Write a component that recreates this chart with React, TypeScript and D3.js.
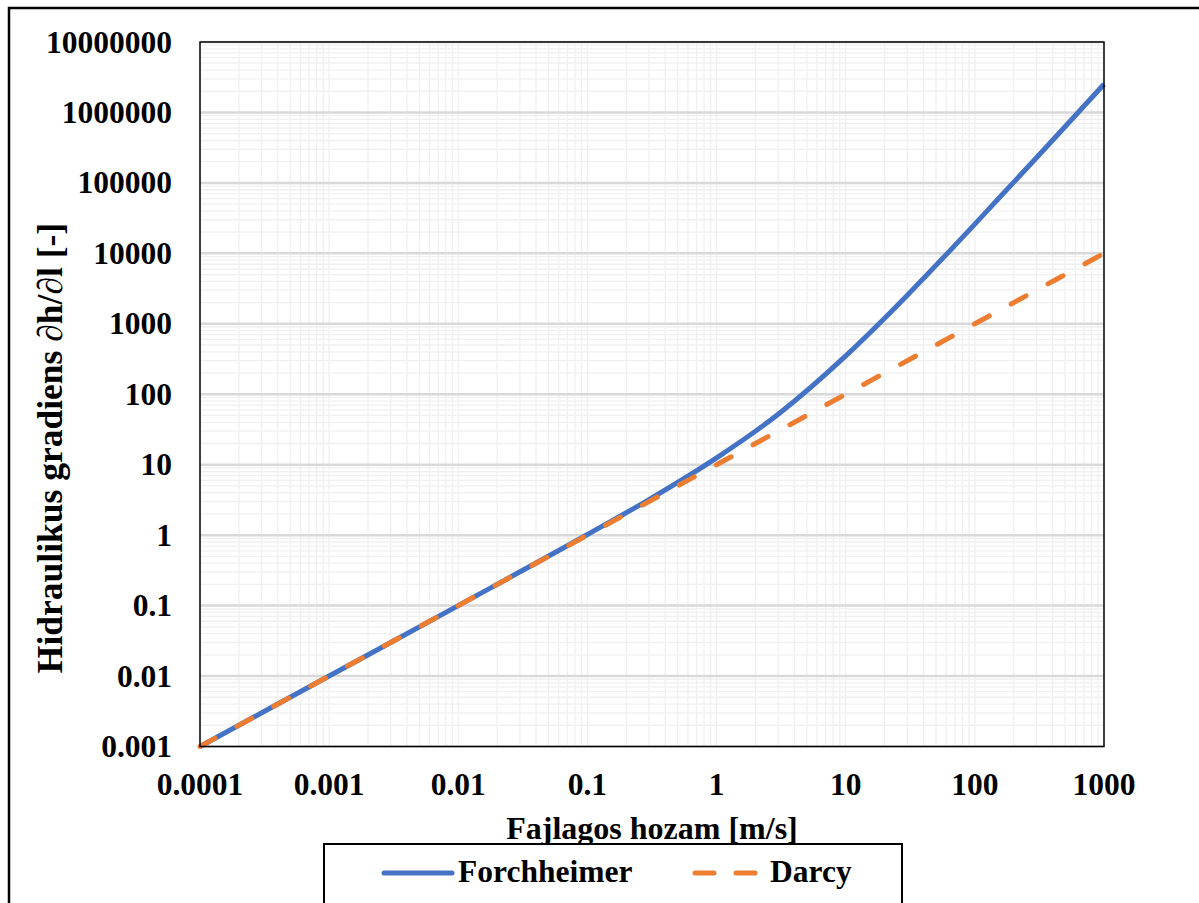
import React from "react";
import * as d3 from "d3";

const xTicks = [0.0001, 0.001, 0.01, 0.1, 1, 10, 100, 1000];
const xTickLabels = ["0.0001", "0.001", "0.01", "0.1", "1", "10", "100", "1000"];
const yTicks = [0.001, 0.01, 0.1, 1, 10, 100, 1000, 10000, 100000, 1000000, 10000000];
const yTickLabels = ["0.001", "0.01", "0.1", "1", "10", "100", "1000", "10000", "100000", "1000000", "10000000"];

const forchV = [0.0001, 0.001, 0.01, 0.1, 0.3, 1, 3, 10, 20, 30, 60, 100, 150, 300, 600, 1000];
const forchI = [0.001, 0.01, 0.1, 1.02, 3.2, 12.5, 52, 350, 1200, 2550, 9600, 26000, 58000, 228000, 906000, 2510000];

const darcyV = [0.0001, 0.001, 0.01, 0.1, 1, 10, 100, 1000];
const darcyI = [0.001, 0.01, 0.1, 1, 10, 100, 1000, 10000];

const seriesNames = ["Forchheimer", "Darcy"];
const colors = ["#4472C4", "#ED7D31"];

const L = 200, R = 1104, T = 42, B = 746.5;
const FONT = "'Liberation Serif', 'Times New Roman', serif";

export default function App() {
  const x = d3.scaleLog().domain([0.0001, 1000]).range([L, R]);
  const y = d3.scaleLog().domain([0.001, 10000000]).range([B, T]);

  const minorX: number[] = [];
  xTicks.slice(0, -1).forEach((d) => {
    for (let k = 2; k <= 9; k++) minorX.push(d * k);
  });
  const minorY: number[] = [];
  yTicks.slice(0, -1).forEach((d) => {
    for (let k = 2; k <= 9; k++) minorY.push(d * k);
  });

  const line = d3
    .line<[number, number]>()
    .x((d) => x(d[0]))
    .y((d) => y(d[1]))
    .curve(d3.curveMonotoneX);

  const forchPath = line(forchV.map((v, i) => [v, forchI[i]]) as [number, number][]) || "";
  const darcyPath = line(darcyV.map((v, i) => [v, darcyI[i]]) as [number, number][]) || "";

  return (
    <svg
      width={1199}
      height={903}
      style={{ position: "absolute", left: 0, top: 0, background: "#fff" }}
    >
      <rect x={0} y={0} width={1199} height={903} fill="#fff" />
      <rect x={9} y={8} width={1300} height={1000} fill="none" stroke="#000" strokeWidth={2.5} />

      {/* minor grid */}
      {minorX.map((d, i) => (
        <line key={"mx" + i} x1={x(d)} x2={x(d)} y1={T} y2={B} stroke="#f0f0f0" strokeWidth={1.3} />
      ))}
      {xTicks.map((d, i) => (
        <line key={"Mx" + i} x1={x(d)} x2={x(d)} y1={T} y2={B} stroke="#f0f0f0" strokeWidth={1.3} />
      ))}
      {minorY.map((d, i) => (
        <line key={"my" + i} x1={L} x2={R} y1={y(d)} y2={y(d)} stroke="#f0f0f0" strokeWidth={1.3} />
      ))}
      {yTicks.map((d, i) => (
        <line key={"My" + i} x1={L} x2={R} y1={y(d)} y2={y(d)} stroke="#d9d9d9" strokeWidth={2.5} />
      ))}

      {/* series */}
      <path d={forchPath} fill="none" stroke={colors[0]} strokeWidth={5} />
      <path
        d={darcyPath}
        fill="none"
        stroke={colors[1]}
        strokeWidth={5}
        strokeDasharray="17 25"
        strokeLinecap="round"
      />

      {/* plot border */}
      <rect x={L} y={T} width={R - L} height={B - T} fill="none" stroke="#000" strokeWidth={1.5} />

      {/* tick labels */}
      {yTicks.map((d, i) => (
        <text
          key={"yl" + i}
          x={172}
          y={y(d) + 10.5}
          textAnchor="end"
          fontFamily={FONT}
          fontWeight="bold"
          fontSize={31.5}
        >
          {yTickLabels[i]}
        </text>
      ))}
      {xTicks.map((d, i) => (
        <text
          key={"xl" + i}
          x={x(d)}
          y={795}
          textAnchor="middle"
          fontFamily={FONT}
          fontWeight="bold"
          fontSize={31.5}
        >
          {xTickLabels[i]}
        </text>
      ))}

      {/* axis titles */}
      <text x={(L + R) / 2} y={839} textAnchor="middle" fontFamily={FONT} fontWeight="bold" fontSize={32}>
        Fajlagos hozam [m/s]
      </text>
      <text
        transform={`translate(62, 448) rotate(-90)`}
        textAnchor="middle"
        fontFamily={FONT}
        fontWeight="bold"
        fontSize={35.5}
      >
        Hidraulikus gradiens ∂h/∂l [-]
      </text>

      {/* legend */}
      <rect x={324} y={844} width={578} height={70} fill="#fff" stroke="#000" strokeWidth={2} />
      <line x1={384} x2={452} y1={873} y2={873} stroke={colors[0]} strokeWidth={5} strokeLinecap="round" />
      <text x={458} y={882} fontFamily={FONT} fontWeight="bold" fontSize={31.5}>
        {seriesNames[0]}
      </text>
      <line
        x1={695}
        x2={759}
        y1={873}
        y2={873}
        stroke={colors[1]}
        strokeWidth={5}
        strokeLinecap="round"
        strokeDasharray="19 22"
      />
      <text x={770} y={882} fontFamily={FONT} fontWeight="bold" fontSize={31.5}>
        {seriesNames[1]}
      </text>
    </svg>
  );
}
